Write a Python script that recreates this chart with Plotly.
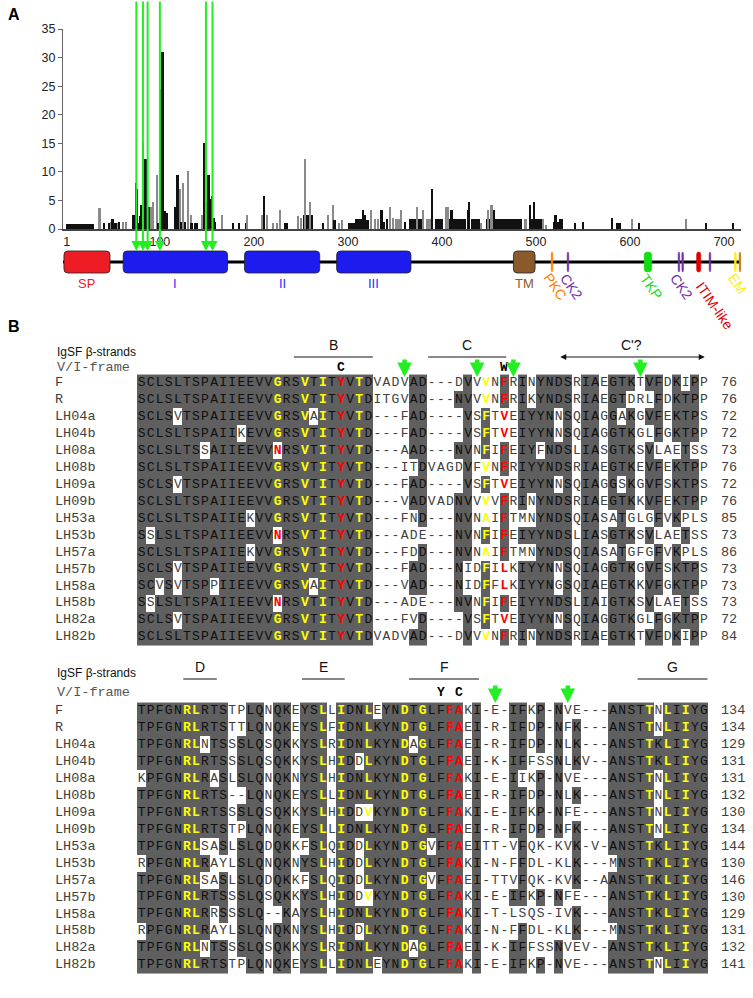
import math
from collections import Counter
import plotly.graph_objects as go

W, H = 753, 998

# ---------------- Panel A data ----------------
run_start = [0, 40, 70, 77, 104, 115, 147, 232, 252, 300, 308, 365, 383, 393, 404, 431, 447, 493]
run_end   = [30, 42, 76, 83, 109, 118, 160, 236, 263, 308, 315, 380, 389, 401, 426, 440, 485, 506]
run_val   = [0.9, 1.0, 2.5, 1.0, 2.8, 3.8, 1.2, 1.0, 2.5, 1.0, 1.7, 1.7, 1.7, 1.7, 1.7, 1.7, 1.7, 1.7]
run_shade = ['k', 'k', 'k', 'k', 'k', 'k', 'k', 'k', 'k', 'k', 'k', 'k', 'g', 'k', 'k', 'k', 'k', 'k']

bar_pos = [36, 46, 48, 50, 53, 56, 57, 61, 64, 75, 76, 79, 80, 82, 84, 85, 87, 89, 91, 93, 97, 98,
           100, 102, 103, 106, 119, 120, 122, 123, 125, 127, 130, 133, 134, 138, 140, 145, 147, 149,
           150, 152, 153, 155, 156, 158, 166, 178, 184, 192, 193, 209, 211, 214, 221, 225, 228, 247,
           250, 255, 260, 274, 279, 284, 286, 291, 294, 316, 318, 321, 325, 329, 332, 336, 338, 342,
           345, 348, 352, 355, 357, 361, 374, 380, 390, 405, 407, 410, 411, 428, 429, 442, 449, 453,
           456, 489, 494, 498, 508, 511, 520, 521, 524, 526, 528, 542, 550, 581, 587, 590, 602, 610,
           660, 681, 710]
bar_val = [3.6, 1.0, 1.2, 1.7, 1.0, 1.0, 1.2, 1.3, 1.2, 8.0, 7.0, 2.2, 4.2, 15.0, 4.2, 12.3, 4.0, 3.8, 3.8, 4.8, 9.5, 1.0,
           24.5, 3.2, 31.0, 3.2, 9.5, 4.5, 7.0, 1.2, 8.0, 1.2, 10.2, 2.5, 1.0, 1.0, 1.0, 2.5, 15.0, 4.8,
           2.0, 9.5, 5.3, 3.3, 5.8, 2.0, 2.5, 1.0, 1.0, 1.0, 2.5, 2.5, 5.8, 2.5, 1.0, 1.0, 3.3, 2.3,
           2.0, 12.3, 4.8, 1.0, 2.5, 4.2, 1.5, 1.0, 1.5, 3.3, 2.5, 1.5, 3.3, 1.7, 1.7, 3.3, 1.2, 1.7,
           3.8, 2.0, 1.7, 1.7, 3.3, 1.2, 3.8, 3.3, 7.0, 3.8, 3.8, 3.3, 3.3, 3.3, 4.8, 1.0, 3.3, 4.2,
           3.3, 1.7, 4.2, 4.8, 1.7, 0.7, 1.2, 2.5, 1.2, 1.7, 1.7, 1.0, 1.2, 2.0, 1.0, 1.0, 1.7, 1.0,
           1.7, 1.0, 1.0]
bar_shade = ['g', 'k', 'g', 'k', 'k', 'g', 'k', 'g', 'g', 'k', 'k', 'k', 'k', 'k', 'k', 'k', 'k', 'k', 'g', 'g', 'g', 'k',
             'k', 'k', 'k', 'k', 'k', 'k', 'g', 'k', 'g', 'k', 'g', 'g', 'k', 'k', 'k', 'g', 'k', 'k',
             'k', 'k', 'k', 'k', 'k', 'k', 'g', 'k', 'k', 'k', 'g', 'g', 'k', 'g', 'g', 'g', 'g', 'g',
             'g', 'g', 'g', 'k', 'g', 'g', 'k', 'g', 'g', 'k', 'k', 'k', 'g', 'g', 'g', 'k', 'k', 'k',
             'g', 'g', 'g', 'g', 'g', 'k', 'g', 'g', 'k', 'g', 'g', 'k', 'k', 'k', 'k', 'g', 'g', 'g',
             'k', 'g', 'k', 'k', 'g', 'g', 'k', 'k', 'k', 'k', 'k', 'k', 'k', 'k', 'k', 'k', 'g', 'k',
             'g', 'k', 'k']
x_ticks = [1, 100, 200, 300, 400, 500, 600, 700]
green_res = [75, 82, 87, 100, 149, 156]

dom_names = ['SP', 'I', 'II', 'III', 'TM']
dom_start = [-2, 61, 190, 288, 476]
dom_end = [47, 172, 270, 367, 499]
dom_color = ['#ee1c24', '#1c1cee', '#1c1cee', '#1c1cee', '#8b5a2b']
dom_label_color = ['#ee1c24', '#2a2aff', '#2a2aff', '#2a2aff', '#8b5a2b']

motif_pos = [517, 534, 619, 652, 656, 673, 685, 712, 717]
motif_w = [1.8, 1.8, 8.0, 1.8, 1.8, 4.5, 1.8, 2.0, 2.0]
motif_color = ['#ff8000', '#7030a0', '#11dd11', '#7030a0', '#7030a0', '#e00000', '#7030a0', '#ffee00', '#c88020']
mlabel_text = ['PKC', 'CK2', 'TKP', 'CK2', 'ITIM-like', 'EM']
mlabel_pos = [514, 531, 616, 648, 669, 709]
mlabel_color = ['#ff8000', '#7030a0', '#11dd11', '#7030a0', '#e00000', '#ffee00']

# ---------------- Panel B data ----------------
names = ['F', 'R', 'LH04a', 'LH04b', 'LH08a', 'LH08b', 'LH09a', 'LH09b', 'LH53a', 'LH53b',
         'LH57a', 'LH57b', 'LH58a', 'LH58b', 'LH82a', 'LH82b']
block1 = [
    "SCLSLTSPAIIEEVVGRSVTITYVTDVADVAD---DVVVNFRINYNDSRIAEGTKTVFDKIPP",
    "SCLSLTSPAIIEEVVGRSVTITYVTDITGVAD---NVVVNFRIKYNDSRIAEGTDRLFDKTPP",
    "SCLSVTSPAIIEEVVGRSVAITYVTD---FAD----VSFTVEIYYNNSQIAGGAKGVFEKTPS",
    "SCLSLTSPAIIKEVVGRSVTITYVTD---FAD----VSFTVEIYYNNSQIAGGTKGLFGKTPP",
    "SCLSLTSSAIIEEVVNRSVTITYVTD---AAD---NVNFIFEIYFNDSLIASGTKSVLAETSS",
    "SCLSLTSPAIIEEVVGRSVTITYVTD---ITDVAGDVFVNFRIYYNDSRIAEGTKEVFEKTPP",
    "SCLSVTSPAIIEEVVGRSVTITYVTD---FAD----VSFTVEIYYNNSQIAGGSKGVFSKTPS",
    "SCLSLTSPAIIEEVVGRSVTITYVTD---VADVADNVVVVFRINYNDSRIAEGTKKVFEKTPP",
    "SCLSLTSPAIIEKVVGRSVTITYVTD---FND---NVNAIFTMNYNDSQIASATGLGFVKPLS",
    "SSLSLTSPAIIEEVVNRSVTITYVTD---ADE---NVNFIFEIYYNDSLIASGTKSVLAETSS",
    "SCLSLTSPAIIEKVVGRSVTITYVTD---FDD---NVNAIFTMNYNDSQIASATGFGFVKPLS",
    "SCLSVTSPAIIEEVVGRSVTITYVTD---FAD---NIDFILKIYYNNSQIAGGTKGVFSKTPS",
    "SCVSVTSPPIIEEVVGRSVAITYVTD---VAD---NIDFFLKIYYNGSQIAEGTKKVFGKTPP",
    "SSLSLTSPAIIEEVVNRSVTITYVTD---ADE---NVNFIFEIYYNDSLIAIGTKSVLAETSS",
    "SCLSVTSPAIIEEVVGRSVTITYVTD---FVD----VSFTVEIYYNNSQIAGGTKGLFGKTPP",
    "SCLSLTSPAIIEEVVGRSVTITYVTDVADVAD---DVVVNFRINYNDSRIAEGTKTVFDKIPP",
]
block2 = [
    "TPFGNRLRTSTPLQNQKEYSLLIDNLEYNDTGLFFAKI-E-IFKP-NVE---ANSTTNLIIYG",
    "TPFGNRLRTSTTLQNQKEYSLFIDNLKYNDTGLFFAEI-R-IFDP-NFK---ANSTTNLIIYG",
    "TPFGNRLNTSSSLQSQKKYSLRIDNLKYNDAGLFFAEI-R-IFDP-NLK---ANSTTKLIIYG",
    "TPFGNRLRTSSSLQSQKKYSLHIDDLKYNDTGLFFAEI-K-IFFSSNLKV--ANSTTKLIIYG",
    "KPFGNRLRASLSLQNQKNYSLHIDNLKYNDTGLFFAKI-E-IIKP-NVE---ANSTTNLIIYG",
    "TPFGNRLRTS--LQNQKEYSLLIDNLKYNDTGLFFAEI-R-IFDP-NLK---ANSTTNLIIYG",
    "TPFGNRLRTSSSLQSQKKYSLHIDDVKYNDTGLFFAKI-E-IFKP-NFE---ANSTTNLIIYG",
    "TPFGNRLRTSTPLQNQKEYSLLIDNLKYNDTGLFFAEI-R-IFDP-NFK---ANSTTNLIIYG",
    "TPFGNRLSASLSLQDQKKFSLQIDDLKYNDTGVFFAEITT-VFQK-KVK-V-ANSTTKLIIYG",
    "RPFGNRLRAYLSLQNQKNYSLHIDDLKYNDTGLFFAKI-N-FFDL-KLK---MNSTTKLIIYG",
    "TPFGNRLSASLSLQDQKKFSLQIDDLKYNDTGVFFAEI-TTVFQK-KVK--AANSTTKLIIYG",
    "TPFGNRLRTSSSLQSQKKYSLHIDDVKYNDTGLFFAKI-E-IFKP-NFE---ANSTTKLIIYG",
    "TPFGNRLRRSSSLQ--KAYSLHIDNLKYNDTGLFFAKI-T-LSQS-IVK---ANSTTKLIIYG",
    "RPFGNRLRAYLSLQNQKNYSLHIDDLKYNDTGLFFAKI-N-FFDL-KLK---MNSTTKLIIYG",
    "TPFGNRLNTSSSLQSQKKYSLRIDNLKYNDAGLFFAEI-K-IFFSSNVEV--ANSTTKLIIYG",
    "TPFGNRLRTSTPLQNQKEYSLLIDNLEYNDTGLFFAKI-E-IFKP-NVE---ANSTTNLIIYG",
]
end1 = [76, 76, 72, 72, 73, 76, 72, 76, 85, 73, 86, 73, 73, 73, 72, 84]
end2 = [134, 134, 129, 131, 131, 132, 130, 134, 144, 130, 146, 130, 129, 131, 132, 141]

yellow1 = {16: 'G', 19: 'V', 21: 'I', 25: 'T', 39: 'VFA'}
red1 = {16: 'N', 23: 'Y', 41: 'FVL'}
yellow2 = {6: 'R', 7: 'L', 21: 'L', 23: 'I', 26: 'LV', 30: 'D', 32: 'G', 57: 'T', 59: 'L', 61: 'I'}
red2 = {35: 'F', 36: 'A'}

strand1_lab = ['B', 'C']
strand1_s = [17.8, 32.6]
strand1_e = [26.5, 41.2]
cprime_s, cprime_e = 47.0, 63.1
strand2_lab = ['D', 'E', 'F', 'G']
strand2_s = [5.6, 18.7, 30.5, 55.7]
strand2_e = [9.3, 23.4, 38.2, 63.4]
frame1 = {23: 'C', 41: 'W'}
frame2 = {34: 'Y', 36: 'C'}
arrows1 = [30, 38, 42, 56]
arrows2 = [40, 48]

# ---------------- helpers ----------------
def py(p):
    return 1 - p / H

ROW = 16.93
COLW = 9.07
X0PX = 137.0
def yrow(p):
    return (p - 383.0) / ROW
def xcol(p):
    return 0.5 + (p - X0PX) / COLW
B2 = yrow(711.0)

MONO = "Courier New, Liberation Mono, monospace"
SANS = "Arial, Liberation Sans, sans-serif"
GREEN = '#22ee22'
SHADE = '#5f5f5f'

fig = go.Figure()

cmap = {'k': '#111111', 'g': '#8a8a8a'}
fig.add_trace(go.Bar(
    x=[(s + e) / 2 for s, e in zip(run_start, run_end)], y=run_val,
    width=[e - s for s, e in zip(run_start, run_end)],
    marker=dict(color=[cmap[c] for c in run_shade], line_width=0),
    xaxis='x', yaxis='y', hoverinfo='skip'))
fig.add_trace(go.Bar(
    x=bar_pos, y=bar_val, width=1.8,
    marker=dict(color=[cmap[c] for c in bar_shade], line_width=0),
    xaxis='x', yaxis='y', hoverinfo='skip'))

def shade(seqs, thr=9):
    z = []
    ncol = max(len(s) for s in seqs)
    for s in seqs:
        row = []
        for c in range(ncol):
            ch = s[c] if c < len(s) else '-'
            cnt = Counter(t[c] for t in seqs if c < len(t) and t[c] != '-')
            if ch != '-' and cnt and cnt[ch] >= thr and cnt[ch] == max(cnt.values()):
                row.append(1)
            else:
                row.append(None)
        z.append(row)
    return z

shapes = []
ann = []

def add_block(seqs, ends, yoff, yellow, red):
    z = shade(seqs)
    ncol = len(z[0])
    fig.add_trace(go.Heatmap(
        x=list(range(1, ncol + 1)), y=[yoff + i for i in range(len(seqs))], z=z,
        colorscale=[[0, SHADE], [1, SHADE]], zmin=0, zmax=1, showscale=False,
        hoverinfo='skip', xaxis='x2', yaxis='y2'))
    nx, ny, nt, nc = [], [], [], []
    cx = {'y': ([], [], []), 'r': ([], [], [])}
    for i, s in enumerate(seqs):
        for c, ch in enumerate(s):
            col = c + 1
            y = yoff + i
            if col in yellow and ch in yellow[col]:
                cx['y'][0].append(col); cx['y'][1].append(y); cx['y'][2].append(ch)
            elif col in red and ch in red[col]:
                cx['r'][0].append(col); cx['r'][1].append(y); cx['r'][2].append(ch)
            else:
                nx.append(col); ny.append(y); nt.append(ch)
                nc.append('#101010' if z[i][c] == 1 else '#404040')
    fig.add_trace(go.Scatter(x=nx, y=ny, text=nt, mode='text', xaxis='x2', yaxis='y2',
                             textfont=dict(family=MONO, size=13, color=nc), hoverinfo='skip'))
    for k, colr in (('y', '#ffff00'), ('r', '#ff0000')):
        fig.add_trace(go.Scatter(x=cx[k][0], y=cx[k][1], text=cx[k][2], mode='text',
                                 xaxis='x2', yaxis='y2', hoverinfo='skip',
                                 textfont=dict(family=MONO, size=13, color=colr, weight='bold')))
    fig.add_trace(go.Scatter(x=[xcol(55)] * len(names), y=[yoff + i for i in range(len(names))],
                             text=names, mode='text', textposition='middle right',
                             xaxis='x2', yaxis='y2', hoverinfo='skip',
                             textfont=dict(family=MONO, size=13.5, color='#404040')))
    fig.add_trace(go.Scatter(x=[xcol(721)] * len(ends), y=[yoff + i for i in range(len(ends))],
                             text=[str(v) for v in ends], mode='text', textposition='middle right',
                             xaxis='x2', yaxis='y2', hoverinfo='skip',
                             textfont=dict(family=MONO, size=13.5, color='#404040')))

add_block(block1, end1, 0.0, yellow1, red1)
add_block(block2, end2, B2, yellow2, red2)

def header(strands_lab, s_list, e_list, frame, arrows, bar_px, lab_px, vi_px, ig_px, tip_px):
    ann.append(dict(x=xcol(55), y=yrow(ig_px), xref='x2', yref='y2', text='IgSF β-strands',
                    showarrow=False, xanchor='left', yanchor='middle',
                    font=dict(family=SANS, size=12, color='#111111')))
    ann.append(dict(x=xcol(55), y=yrow(vi_px), xref='x2', yref='y2', text='V/I-frame',
                    showarrow=False, xanchor='left', yanchor='middle',
                    font=dict(family=MONO, size=13.5, color='#555555')))
    for lab, s, e in zip(strands_lab, s_list, e_list):
        shapes.append(dict(type='line', xref='x2', yref='y2', x0=s, x1=e, y0=yrow(bar_px), y1=yrow(bar_px),
                           line=dict(color='#111111', width=1.2)))
        ann.append(dict(x=(s + e) / 2, y=yrow(lab_px), xref='x2', yref='y2', text=lab, showarrow=False,
                        xanchor='center', yanchor='middle', font=dict(family=SANS, size=14, color='#111111')))
    for col, t in frame.items():
        ann.append(dict(x=col, y=yrow(vi_px), xref='x2', yref='y2', text='<b>' + t + '</b>',
                        showarrow=False, xanchor='center', yanchor='middle',
                        font=dict(family=MONO, size=13, color='#000000')))
    for col in arrows:
        ann.append(dict(x=col, y=yrow(tip_px), xref='x2', yref='y2', ax=0, ay=-19, text='',
                        showarrow=True, arrowhead=2, arrowsize=0.65, arrowwidth=4.5, arrowcolor=GREEN))

header(strand1_lab, strand1_s, strand1_e, frame1, arrows1, 357, 345, 367, 352, 377)
ann.append(dict(x=cprime_e, y=yrow(357), xref='x2', yref='y2', ax=cprime_s, ay=yrow(357),
                axref='x2', ayref='y2', text='', showarrow=True, arrowhead=2, startarrowhead=2,
                arrowside='end+start', arrowsize=1, arrowwidth=1.2, arrowcolor='#111111'))
ann.append(dict(x=(cprime_s + cprime_e) / 2, y=yrow(345), xref='x2', yref='y2', text="C'?",
                showarrow=False, font=dict(family=SANS, size=14, color='#111111')))
header(strand2_lab, strand2_s, strand2_e, frame2, arrows2, 679, 667, 692, 673, 703)

def rrect(x0, x1, y0, y1, rx, ry):
    return (f"M{x0 + rx},{y0} L{x1 - rx},{y0} Q{x1},{y0} {x1},{y0 + ry} L{x1},{y1 - ry} "
            f"Q{x1},{y1} {x1 - rx},{y1} L{x0 + rx},{y1} Q{x0},{y1} {x0},{y1 - ry} "
            f"L{x0},{y0 + ry} Q{x0},{y0} {x0 + rx},{y0} Z")

shapes.append(dict(type='line', xref='x', yref='paper', x0=-3, x1=718, y0=py(262), y1=py(262),
                   line=dict(color='#000000', width=3), layer='above'))
for n, s, e, c, lc in zip(dom_names, dom_start, dom_end, dom_color, dom_label_color):
    shapes.append(dict(type='path', xref='x', yref='paper', path=rrect(s, e, py(273), py(251), 4, 4 / H),
                       fillcolor=c, line=dict(color='#222222', width=0.8), layer='above'))
    ann.append(dict(x=(s + e) / 2, y=py(283), xref='x', yref='paper', text=n, showarrow=False,
                    xanchor='center', yanchor='middle', font=dict(family=SANS, size=13, color=lc)))
for p, w, c in zip(motif_pos, motif_w, motif_color):
    shapes.append(dict(type='path', xref='x', yref='paper',
                       path=rrect(p - w / 2, p + w / 2, py(272), py(252), w / 2.2, 3 / H),
                       fillcolor=c, line=dict(color=c, width=0.5), layer='above'))
ang = 55
for t, p, c in zip(mlabel_text, mlabel_pos, mlabel_color):
    L = len(t) * 7.8
    ann.append(dict(x=p, y=py(272), xref='x', yref='paper', text=t, showarrow=False, textangle=ang,
                    xanchor='center', yanchor='middle',
                    xshift=0.5 * L * math.cos(math.radians(ang)),
                    yshift=-(0.5 * L * math.sin(math.radians(ang)) + 5),
                    font=dict(family=SANS, size=14, color=c)))

for r in green_res:
    ann.append(dict(x=r, y=py(251), xref='x', yref='paper', ax=0, ay=-251, text='',
                    showarrow=True, arrowhead=2, arrowsize=1.0, arrowwidth=2, arrowcolor=GREEN))

ann.append(dict(x=14 / W, y=py(14), xref='paper', yref='paper', text='<b>A</b>', showarrow=False,
                xanchor='center', yanchor='middle', font=dict(family=SANS, size=16, color='#000')))
ann.append(dict(x=14 / W, y=py(326), xref='paper', yref='paper', text='<b>B</b>', showarrow=False,
                xanchor='center', yanchor='middle', font=dict(family=SANS, size=16, color='#000')))

fig.update_layout(
    width=W, height=H, margin=dict(l=0, r=0, t=0, b=0, autoexpand=False),
    paper_bgcolor='white', plot_bgcolor='rgba(0,0,0,0)',
    showlegend=False, barmode='overlay', bargap=0,
    xaxis=dict(domain=[63 / W, 741 / W], range=[-3, 718], anchor='y', automargin=False,
               tickvals=x_ticks, ticks='', showgrid=False, zeroline=False,
               showline=True, linecolor='#444444', linewidth=1.5,
               tickfont=dict(family=SANS, size=12.5, color='#222222')),
    yaxis=dict(domain=[py(229), py(29)], range=[0, 35], anchor='x', dtick=5, automargin=False,
               ticks='outside', ticklen=4, tickcolor='#666666', showgrid=False, zeroline=False,
               showline=True, linecolor='#666666', linewidth=1,
               tickfont=dict(family=SANS, size=12.5, color='#222222')),
    xaxis2=dict(domain=[0, 1], range=[xcol(0), xcol(W)], anchor='y2', visible=False, automargin=False),
    yaxis2=dict(domain=[0, 1], range=[yrow(H), yrow(0)], anchor='x2', visible=False, automargin=False),
    shapes=shapes, annotations=ann,
)

fig.write_html("out.html", config={'displayModeBar': False},
               post_script="document.body.style.margin='0';document.body.style.overflow='hidden';")
